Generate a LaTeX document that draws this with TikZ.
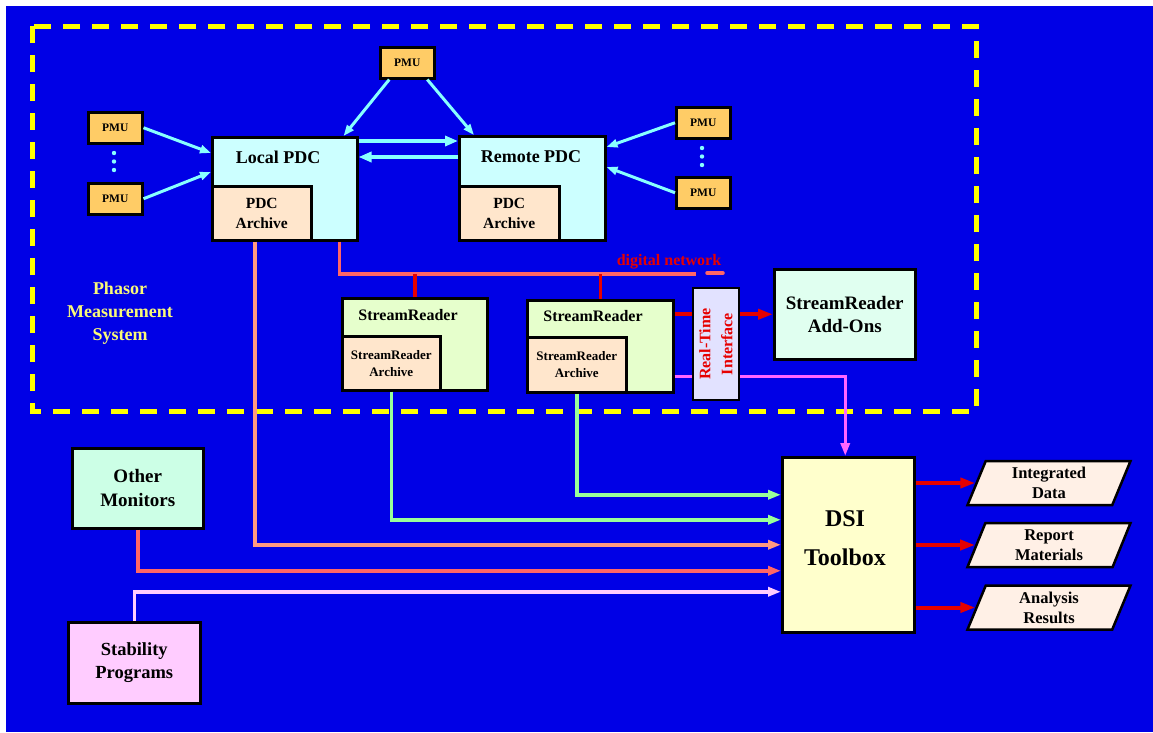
\documentclass[tikz,border=0pt]{standalone}
\usepackage{fontspec}
\setmainfont{Liberation Serif}
\usetikzlibrary{arrows.meta,shapes.geometric}

\definecolor{bgblue}{RGB}{0,0,230}
\definecolor{pmsyellow}{RGB}{255,255,0}
\definecolor{pmuorange}{RGB}{255,204,102}
\definecolor{pdccyan}{RGB}{204,255,255}
\definecolor{archpeach}{RGB}{255,230,204}
\definecolor{srgreen}{RGB}{230,255,204}
\definecolor{addonmint}{RGB}{224,255,240}
\definecolor{rtililac}{RGB}{226,226,255}
\definecolor{dsiyellow}{RGB}{255,255,204}
\definecolor{outpeach}{RGB}{255,240,230}
\definecolor{ommint}{RGB}{204,255,230}
\definecolor{sppink}{RGB}{255,204,255}
\definecolor{feedcyan}{RGB}{136,255,255}
\definecolor{netsalmon}{RGB}{255,102,102}
\definecolor{arrowred}{RGB}{230,0,0}
\definecolor{wirepeach}{RGB}{255,153,128}
\definecolor{wiregreen}{RGB}{153,255,153}
\definecolor{wiremag}{RGB}{255,102,255}
\definecolor{wirepink}{RGB}{255,204,255}
\definecolor{phasortext}{RGB}{250,250,120}

\begin{document}
\begin{tikzpicture}[x=1pt, y=-1pt,
  box/.style={draw=black, line width=2.5pt, inner sep=0pt, anchor=north west, align=center},
  pmu/.style={box, fill=pmuorange, minimum width=54, minimum height=31, font=\bfseries\fontsize{11.5}{13}\selectfont},
  title/.style={font=\bfseries\fontsize{18}{20}\selectfont},
  feed/.style={draw=feedcyan, line width=3pt, -{Triangle[length=11pt,width=8pt]}},
  link/.style={draw=feedcyan, line width=4pt, -{Triangle[length=13pt,width=10pt]}},
  net/.style={draw=netsalmon, line width=3.5pt},
  drop/.style={draw=arrowred, line width=3.5pt},
  wire/.style={line width=3.5pt, -{Triangle[length=13pt,width=9pt]}},
  outar/.style={draw=arrowred, line width=4pt, -{Triangle[length=15pt,width=10pt]}},
  outbox/.style={trapezium, trapezium left angle=60, trapezium right angle=120,
    trapezium stretches body, draw=black, line width=2.5pt, fill=outpeach,
    minimum width=163, minimum height=44, inner sep=0pt, align=center,
    font=\bfseries\fontsize{16.5}{20}\selectfont}]

% background
\fill[bgblue] (6,6) rectangle (1153,732);
\useasboundingbox (0,0) rectangle (1153,732);

% phasor measurement system frame
\coordinate (PMSnw) at (32,26);
\coordinate (PMSse) at (976,411);
\draw[pmsyellow, line width=5pt, dash pattern=on 17pt off 12pt] (PMSnw) rectangle (PMSse);
\node[font=\bfseries\fontsize{18}{23}\selectfont, text=phasortext, align=center] (pmsText) at (120,313) {Phasor\\Measurement\\System};

% PMUs
\node[pmu] (pmuT)  at (379,46)  {PMU};
\node[pmu] (pmuL1) at (87,111)  {PMU};
\node[pmu] (pmuL2) at (87,182)  {PMU};
\node[pmu] (pmuR1) at (675,106) {PMU};
\node[pmu] (pmuR2) at (675,176) {PMU};
\foreach \y in {153,161.5,170} \fill[feedcyan] (114,\y) circle (2.2);
\foreach \y in {148,156.5,165} \fill[feedcyan] (702,\y) circle (2.2);

% PDCs
\node[box, fill=pdccyan, minimum width=145, minimum height=103] (lpdc) at (211,136) {};
\node[box, fill=archpeach, minimum width=99, minimum height=54, anchor=south west,
  font=\bfseries\fontsize{15.5}{20}\selectfont] (lpdcArch) at (lpdc.south west) {PDC\\Archive};
\node[title] (lpdcTitle) at (278,157) {Local PDC};

\node[box, fill=pdccyan, minimum width=146, minimum height=104] (rpdc) at (458,135) {};
\node[box, fill=archpeach, minimum width=100, minimum height=54, anchor=south west,
  font=\bfseries\fontsize{15.5}{20}\selectfont] (rpdcArch) at (rpdc.south west) {PDC\\Archive};
\node[title] (rpdcTitle) at (531,157) {Remote PDC};

% StreamReaders
\node[box, fill=srgreen, minimum width=145, minimum height=92] (sr1) at (341,297) {};
\node[box, fill=archpeach, minimum width=98, minimum height=54, anchor=south west,
  font=\bfseries\fontsize{13}{17}\selectfont] (sr1Arch) at (sr1.south west) {StreamReader\\Archive};
\node[font=\bfseries\fontsize{16}{18}\selectfont] (sr1Title) at (408,315) {StreamReader};

\node[box, fill=srgreen, minimum width=146, minimum height=92] (sr2) at (526,299) {};
\node[box, fill=archpeach, minimum width=99, minimum height=55, anchor=south west,
  font=\bfseries\fontsize{13}{17}\selectfont] (sr2Arch) at (sr2.south west) {StreamReader\\Archive};
\node[font=\bfseries\fontsize{16}{18}\selectfont] (sr2Title) at (593,316) {StreamReader};

\node[box, fill=addonmint, minimum width=141, minimum height=90,
  font=\bfseries\fontsize{19}{23}\selectfont] (addons) at (773,268) {StreamReader\\Add-Ons};

% DSI toolbox and other sources
\node[box, fill=dsiyellow, minimum width=132, minimum height=175] (dsi) at (781,456) {};
\node[font=\bfseries\fontsize{24}{39}\selectfont, align=center] (dsiText) at (845,538) {DSI\\Toolbox};
\node[box, fill=ommint, minimum width=131, minimum height=80,
  font=\bfseries\fontsize{19}{24}\selectfont] (om) at (71,447) {Other\\Monitors};
\node[box, fill=sppink, minimum width=132, minimum height=81,
  font=\bfseries\fontsize{18.5}{23}\selectfont] (sp) at (67,621) {Stability\\Programs};

% outputs
\node[outbox] (intData)  at (1049,483)   {Integrated\\Data};
\node[outbox] (repMat)   at (1049,545)   {Report\\Materials};
\node[outbox] (anaRes)   at (1049,607.5) {Analysis\\Results};

% PMU feeds
\draw[feed] ([xshift=-18pt]pmuT.south) -- ([xshift=-15pt]lpdc.north east);
\draw[feed] ([xshift=20pt]pmuT.south) -- ([xshift=16pt]rpdc.north west);
\draw[feed] (pmuL1.east) -- ([yshift=-17pt]lpdc.north west);
\draw[feed] (pmuL2.east) -- ([yshift=-36pt]lpdc.north west);
\draw[feed] (pmuR1.west) -- ([yshift=-12pt]rpdc.north east);
\draw[feed] (pmuR2.west) -- ([yshift=-32pt]rpdc.north east);
\draw[link] ([yshift=-5pt]lpdc.north east) -- ([yshift=-6pt]rpdc.north west);
\draw[link] ([yshift=-22pt]rpdc.north west) -- ([yshift=-21pt]lpdc.north east);

% digital network
\coordinate (netEnd) at (696,274);
\coordinate (tailA) at (707,273);
\coordinate (tailB) at (723,273);
\draw[net] ([xshift=-19pt]lpdc.south east) |- (netEnd);
\draw[net, line cap=round] (tailA) -- (tailB);
\draw[drop] (sr1.north) -- (sr1.north |- netEnd);
\draw[drop] (sr2.north) -- (sr2.north |- netEnd);
\node[font=\bfseries\fontsize{16}{18}\selectfont, text=arrowred] (netText) at (669,262) {digital network};

% real-time interface
\draw[outar] (sr2.east |- addons.west) -- (addons.west);
\draw[wire, draw=wiremag] ([yshift=17pt]sr2.south east) -| ([xshift=-3pt]dsi.north);
\node[box, fill=rtililac, minimum width=46, minimum height=112, line width=2pt] (rti) at (692,287) {};
\node[rotate=90, font=\bfseries\fontsize{16}{22}\selectfont, text=arrowred, align=center] (rtiText) at (rti.center) {Real-Time\\Interface};

% into DSI
\draw[wire, draw=wiregreen] (sr2Arch.south) |- ([yshift=50pt]dsi.west);
\draw[wire, draw=wiregreen] (sr1Arch.south) |- ([yshift=25pt]dsi.west);
\draw[wire, draw=wirepeach] ([xshift=-7pt]lpdcArch.south) |- (dsi.west);
\draw[wire, draw=netsalmon] (om.south) |- ([yshift=-26pt]dsi.west);
\draw[wire, draw=wirepink] (sp.north) |- ([yshift=-47pt]dsi.west);

% out of DSI
\draw[outar] (dsi.east |- intData.west) -- (intData.west);
\draw[outar] (dsi.east |- repMat.west) -- (repMat.west);
\draw[outar] (dsi.east |- anaRes.west) -- (anaRes.west);
\end{tikzpicture}
\end{document}
